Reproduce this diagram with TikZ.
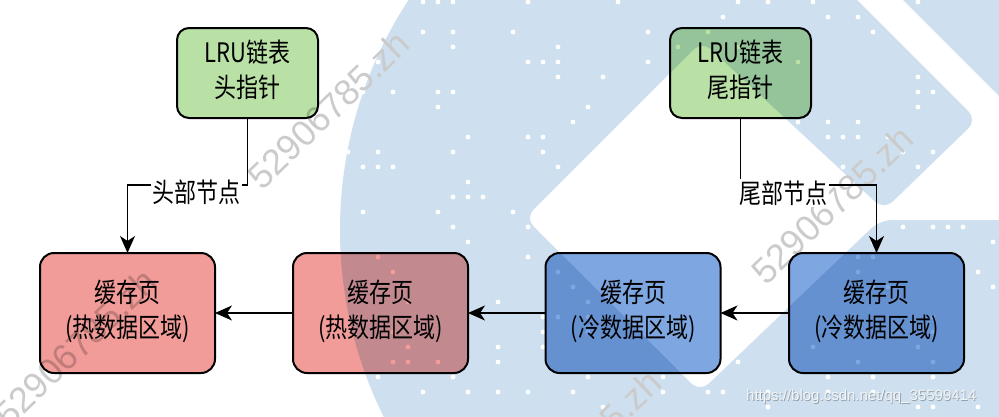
\documentclass[tikz,border=0pt]{standalone}
\usepackage{fontspec}
\usepackage{graphicx}
\setmainfont{Noto Sans CJK SC}
\newfontfamily\wmfont{Liberation Sans}
\usetikzlibrary{arrows.meta}
\definecolor{wmblue}{RGB}{206,224,239}
\definecolor{gfill}{RGB}{185,224,165}
\definecolor{rfill}{RGB}{241,156,153}
\definecolor{bfill}{RGB}{126,166,224}
\definecolor{wmgray}{RGB}{203,203,203}
\definecolor{urltext}{RGB}{242,244,246}
\definecolor{urlshadow}{RGB}{150,160,170}
\newcommand\tallcol[1]{\scalebox{1}[1.22]{\begin{tabular}{@{}c@{}}#1\end{tabular}}}
\newcommand\talltxt[1]{\scalebox{1}[1.22]{#1}}
\begin{document}
\begin{tikzpicture}[x=1pt,y=-1pt,
  box/.style={draw=black, line width=2pt, rounded corners=14pt, align=center,
    inner sep=0pt, outer sep=0pt, font=\fontsize{22pt}{28.7pt}\selectfont},
  cache/.style={box, minimum width=175pt, minimum height=120pt},
  hot/.style={cache, fill=rfill},
  cold/.style={cache, fill=bfill},
  ptr/.style={box, minimum width=141pt, minimum height=90pt, fill=gfill, rounded corners=12pt},
  arr/.style={line width=1.8pt, -{Stealth[length=17pt,width=15pt,inset=5pt]}},
  lbl/.style={fill=white, inner sep=1.5pt, font=\fontsize{22pt}{26pt}\selectfont},
  wmtext/.style={text=wmgray, font=\wmfont\fontsize{36pt}{40pt}\selectfont, rotate=44, inner sep=0pt},
  wmdot/.style={fill=white}
]
\useasboundingbox (0,0) rectangle (999,416);
\clip (0,0) rectangle (999,416);
\fill[white] (0,0) rectangle (999,416);

% ---- watermark layer ----
\fill[wmblue, even odd rule] (760,230) circle[radius=420pt]
  [rounded corners=12pt] (525,218) -- (702,41) -- (884,210) -- (977,120) -- (847,-10)
  -- (893,-10) -- (1009,106) -- (1009,220) -- (880,220) -- (700,392) -- cycle;
\pgfmathsetseed{11}
\foreach \i in {0,...,45}{
  \foreach \j in {0,...,28}{
    \pgfmathrandominteger{\rr}{1}{6}
    \ifnum\rr=1 \fill[wmdot] (333+15*\i, 2+15*\j) circle[radius=2.4pt]; \fi
  }
}
\node[wmtext] (wm1) at (328,110) {52906785.zh};
\node[wmtext] (wm2) at (832,205) {52906785.zh};
\node[wmtext] (wm3) at (75,348) {52906785.zh};
\node[wmtext] (wm4) at (580,449) {52906785.zh};

% ---- diagram (multiplied onto the watermark) ----
\begin{scope}[blend mode=multiply]
\node[ptr] (g1) at (247.5,73) {\tallcol{LRU链表\\头指针}};
\node[ptr] (g2) at (740.5,73) {\tallcol{LRU链表\\尾指针}};
\node[hot] (r1) at (127.5,313) {\tallcol{缓存页\\(热数据区域)}};
\node[hot] (r2) at (380.5,313) {\tallcol{缓存页\\(热数据区域)}};
\node[cold] (b1) at (633,313) {\tallcol{缓存页\\(冷数据区域)}};
\node[cold] (b2) at (876.5,313) {\tallcol{缓存页\\(冷数据区域)}};

\coordinate (hk) at (247.5,185);
\coordinate (tk) at (740.5,185);
\draw[arr] (g1.south) -- (hk) -| (r1.north);
\draw[arr] (g2.south) -- (tk) -| (b2.north);
\draw[arr] (r2.west) -- (r1.east);
\draw[arr] (b1.west) -- (r2.east);
\draw[arr] (b2.west) -- (b1.east);
\end{scope}

\node[lbl] (hl) at (196,192) {\talltxt{头部节点}};
\node[lbl] (tl) at (783,193) {\talltxt{尾部节点}};

\node[anchor=west, inner sep=0pt, text=urlshadow, font=\wmfont\fontsize{15pt}{18pt}\selectfont] (urls) at (746.8,397.8) {https://blog.csdn.net/qq\_35599414};
\node[anchor=west, inner sep=0pt, text=urltext, font=\wmfont\fontsize{15pt}{18pt}\selectfont] (url) at (746,397) {https://blog.csdn.net/qq\_35599414};
\end{tikzpicture}
\end{document}
